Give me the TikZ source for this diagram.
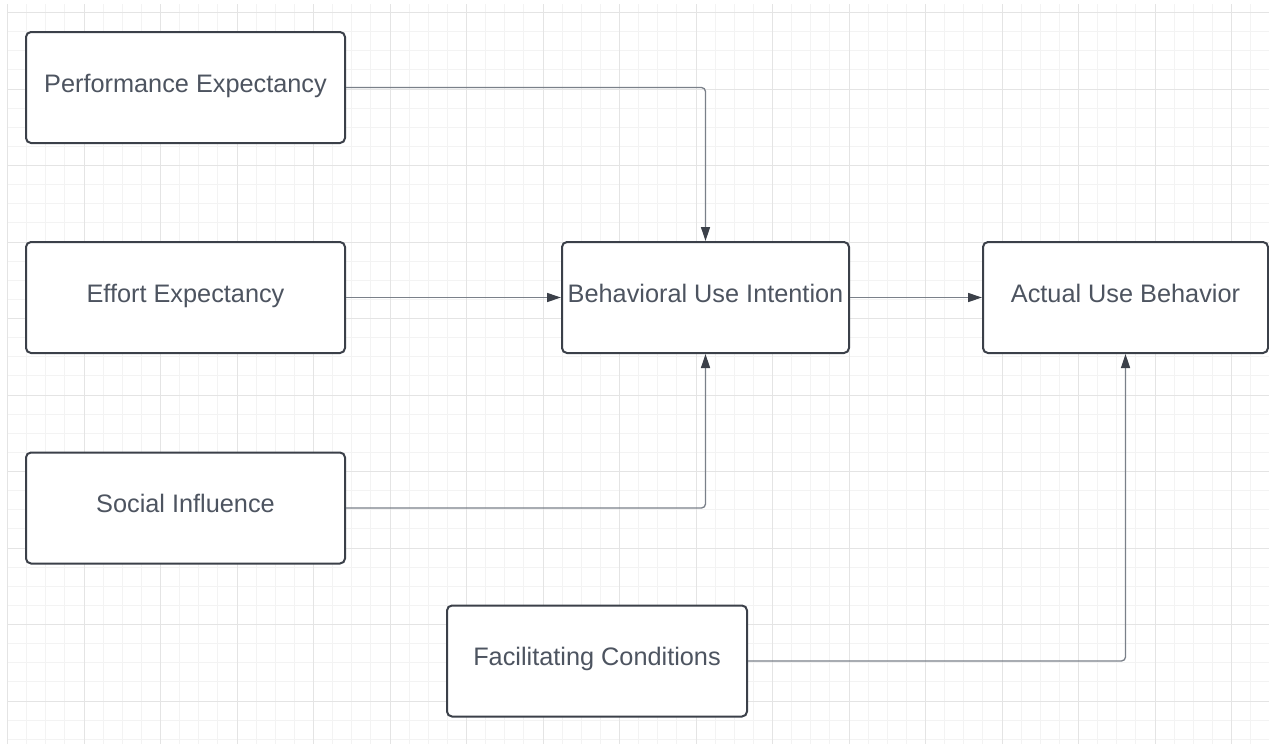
\documentclass[tikz,border=0pt]{standalone}
\usepackage{fontspec}
\setmainfont{Liberation Sans}
\usepackage{tikz}
\usetikzlibrary{arrows.meta}

\definecolor{boxc}{HTML}{3B4049}
\definecolor{textc}{HTML}{4D5460}
\definecolor{linec}{HTML}{7A8089}
\definecolor{minorc}{HTML}{F3F3F3}
\definecolor{majorc}{HTML}{E4E4E4}

\tikzset{
    box/.style={draw=boxc, line width=2pt, rounded corners=5pt, fill=white,
        text=textc, inner sep=0pt, minimum height=111pt,
        text height=18.5pt, text depth=9.5pt,
        font=\fontsize{25.3}{30}\selectfont},
    conn/.style={draw=linec, line width=1.3pt, rounded corners=4pt,
        -{Triangle[length=14pt,width=9pt,color=boxc]}},
    minorline/.style={draw=minorc, line width=1pt},
    majorline/.style={draw=majorc, line width=1pt}
}

\begin{document}
\begin{tikzpicture}[x=1pt,y=-1pt]
        \useasboundingbox (0,0) rectangle (1269,744);
        \fill[white] (0,0) rectangle (1269,744);

        % background grid
        \foreach \i in {0,...,65}
            \draw[minorline] ({7.5+19.125*\i},4) -- ({7.5+19.125*\i},744);
        \foreach \j in {0,...,38}
            \draw[minorline] (7.5,{12.5+19.125*\j}) -- (1269,{12.5+19.125*\j});
        \foreach \i in {0,4,...,64}
            \draw[majorline] ({7.5+19.125*\i},4) -- ({7.5+19.125*\i},744);
        \foreach \j in {0,4,...,36}
            \draw[majorline] (7.5,{12.5+19.125*\j}) -- (1269,{12.5+19.125*\j});

        \node[box,minimum width=319pt] at (185.5,87.5) (pe) {Performance Expectancy};
        \node[box,minimum width=319pt] at (185.5,297.5) (ee) {Effort Expectancy};
        \node[box,minimum width=319pt] at (185.5,508) (si) {Social Influence};
        \node[box,minimum width=300pt] at (597,661) (fc) {Facilitating Conditions};

        \node[box,minimum width=287pt] at (705.5,297.5) (bui) {Behavioral Use Intention};
        \node[box,minimum width=285pt] at (1125.5,297.5) (aub) {Actual Use Behavior};

        \draw[conn] (pe.east) -| (bui.north);
        \draw[conn] (ee.east) -- (bui.west);
        \draw[conn] (si.east) -| (bui.south);

        \draw[conn] (bui.east) -- (aub.west);
        \draw[conn] (fc.east) -| (aub.south);
    \end{tikzpicture}
\end{document}
